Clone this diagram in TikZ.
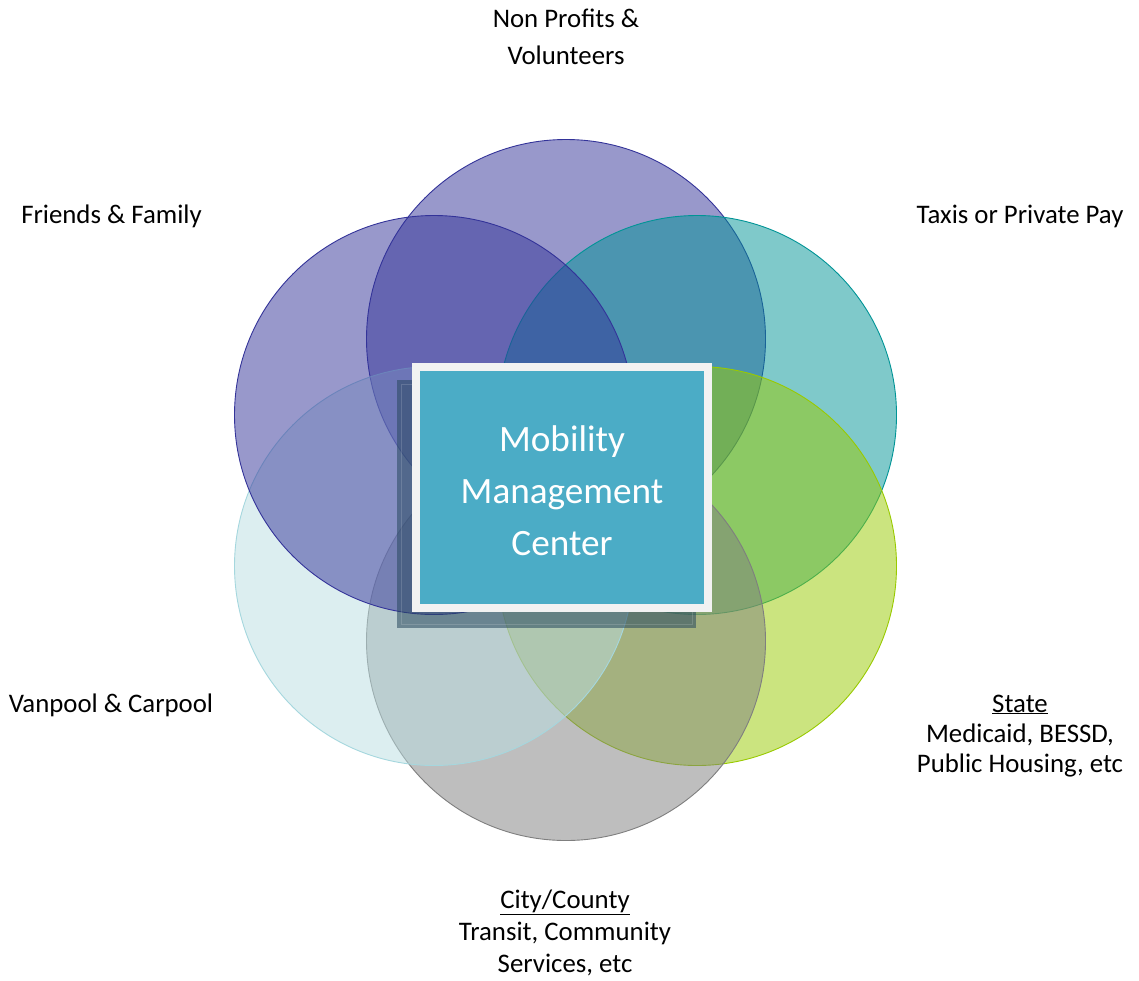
\documentclass[tikz,border=0pt]{standalone}
\usepackage{fontspec}
\setmainfont{Carlito}
\definecolor{cpurple}{RGB}{51,51,153}
\definecolor{cteal}{RGB}{0,148,150}
\definecolor{clime}{RGB}{153,202,0}
\definecolor{cgray}{RGB}{127,127,127}
\definecolor{cpale}{RGB}{186,222,226}
\definecolor{cpaleedge}{RGB}{165,215,222}
\definecolor{cbox}{RGB}{75,172,198}
\definecolor{cborder}{RGB}{242,242,242}
\definecolor{cshadow}{RGB}{40,72,95}
\tikzset{
  ring/.style={circle, minimum size=399pt, inner sep=0pt, fill opacity=0.5, draw opacity=1, line width=0.9pt},
  lbl/.style={font=\fontsize{26.8}{30}\selectfont, inner sep=0pt, anchor=base, align=center, text=black},
}
\begin{document}
\begin{tikzpicture}[x=1pt,y=-1pt]
\useasboundingbox (0,0) rectangle (1139,980);
\fill[white] (0,0) rectangle (1139,980);
% circles, drawn clockwise from top
\node[ring, fill=cpurple, draw=cpurple] (np) at (566,339) {};
\node[ring, fill=cteal, draw=cteal] (tx) at (697,415) {};
\node[ring, fill=clime, draw=clime] (st) at (697,566) {};
\node[ring, fill=cgray, draw=cgray] (cc) at (566,641) {};
\node[ring, fill=cpale, draw=cpaleedge] (vp) at (434,566) {};
\node[ring, fill=cpurple, draw=cpurple] (ff) at (434,415) {};
% shadow frame
\node[rectangle, inner sep=0pt, minimum width=299pt, minimum height=248pt, fill=cshadow, fill opacity=0.55] (shadow) at (546.5,504) {};
\node[rectangle, inner sep=0pt, minimum width=291pt, minimum height=240pt, draw=white, draw opacity=0.15, line width=0.8pt] (shadowline) at (546.5,504) {};
% main box
\node[rectangle, inner sep=0pt, minimum width=292pt, minimum height=241pt, fill=cbox, draw=cborder, line width=8pt] (mmc) at (562,487.5) {};
\node[text=white, align=center, inner sep=0pt, font=\fontsize{37.2}{52}\selectfont] (mmctext) at (562,490.5) {Mobility\\Management\\Center};
% labels
\node[lbl, font=\fontsize{26.8}{37}\selectfont] (lnp) at (566,64) {Non Profits \&\\Volunteers};
\node[lbl] (lff) at (111.5,223) {Friends \& Family};
\node[lbl] (ltx) at (1020,223) {Taxis or Private Pay};
\node[lbl] (lvp) at (111,712) {Vanpool \& Carpool};
\node[lbl] (lst) at (1020,772) {\underline{State}\\Medicaid, BESSD,\\Public Housing, etc};
\node[lbl, font=\fontsize{26.8}{32}\selectfont] (lcc) at (565,972) {\underline{City/County}\\Transit, Community\\Services, etc};
\end{tikzpicture}
\end{document}
